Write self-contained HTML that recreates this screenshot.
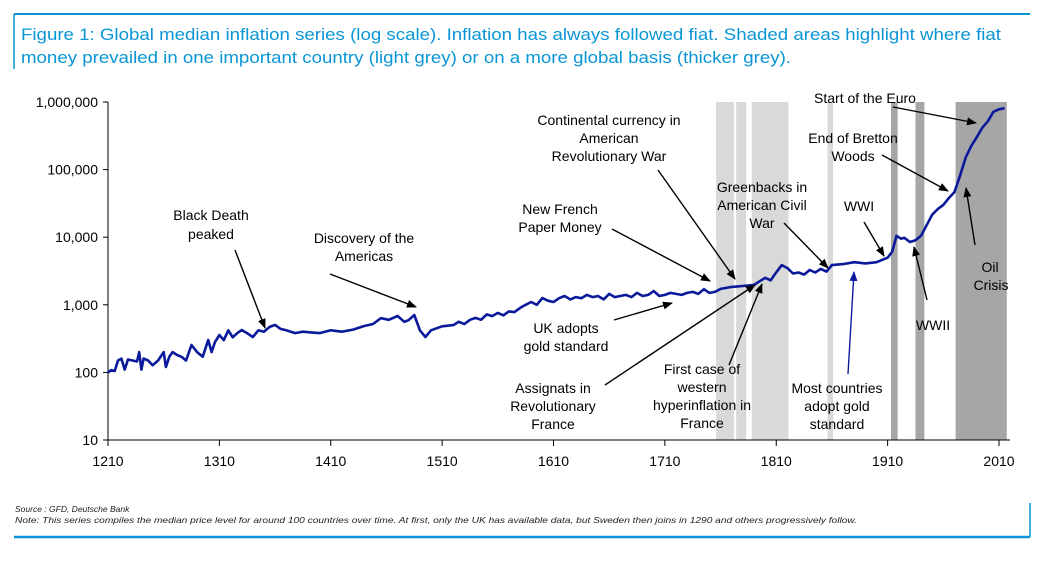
<!DOCTYPE html>
<html><head><meta charset="utf-8"><style>
html,body{margin:0;padding:0;background:#fff;}
svg{display:block;font-family:"Liberation Sans",sans-serif;}
</style></head><body>
<svg id="chart" width="1047" height="561" viewBox="0 0 1047 561">
<defs>
<marker id="ah" markerWidth="10" markerHeight="8" refX="9" refY="4" orient="auto" markerUnits="userSpaceOnUse"><path d="M0,0 L10,4 L0,8 z" fill="#000"/></marker>
<marker id="ahb" markerWidth="10" markerHeight="8" refX="9" refY="4" orient="auto" markerUnits="userSpaceOnUse"><path d="M0,0 L10,4 L0,8 z" fill="#0a1a9a"/></marker>
</defs>
<g stroke="#0a96d6" fill="none">
<line x1="14" y1="14" x2="1030" y2="14" stroke-width="2"/>
<line x1="14" y1="14" x2="14" y2="69" stroke-width="1.5"/>
<line x1="14" y1="537" x2="1030" y2="537" stroke-width="2.5"/>
<line x1="1030" y1="503" x2="1030" y2="537" stroke-width="1.5"/>
</g>
<text x="21" y="40" font-size="17" fill="#0a96d6" textLength="980" lengthAdjust="spacingAndGlyphs">Figure 1: Global median inflation series (log scale). Inflation has always followed fiat. Shaded areas highlight where fiat</text>
<text x="21" y="63" font-size="17" fill="#0a96d6" textLength="770" lengthAdjust="spacingAndGlyphs">money prevailed in one important country (light grey) or on a more global basis (thicker grey).</text>
<g id="bands"></g>
<g id="axes"></g>
<path id="series" fill="none" stroke="#0a1a9a" stroke-width="2.6" stroke-linejoin="round"/>
<g font-size="14" fill="#000" text-anchor="middle">
<text x="211" y="220">Black Death</text><text x="211" y="239">peaked</text>
<text x="364" y="243">Discovery of the</text><text x="364" y="261">Americas</text>
<text x="560" y="214">New French</text><text x="560" y="232">Paper Money</text>
<text x="609" y="125">Continental currency in</text><text x="609" y="143">American</text><text x="609" y="161">Revolutionary War</text>
<text x="762" y="192">Greenbacks in</text><text x="762" y="210">American Civil</text><text x="762" y="228">War</text>
<text x="859" y="211">WWI</text>
<text x="865" y="103">Start of the Euro</text>
<text x="853" y="143">End of Bretton</text><text x="853" y="161">Woods</text>
<text x="990" y="272">Oil</text><text x="991" y="290">Crisis</text>
<text x="933" y="330">WWII</text>
<text x="566" y="333">UK adopts</text><text x="566" y="351">gold standard</text>
<text x="553" y="393">Assignats in</text><text x="553" y="411">Revolutionary</text><text x="553" y="429">France</text>
<text x="702" y="374">First case of</text><text x="702" y="392">western</text><text x="702" y="410">hyperinflation in</text><text x="702" y="428">France</text>
<text x="837" y="393">Most countries</text><text x="837" y="411">adopt gold</text><text x="837" y="429">standard</text>
</g>
<g stroke="#000" stroke-width="1.4" marker-end="url(#ah)">
<line x1="235" y1="250" x2="265" y2="328"/>
<line x1="330" y1="274" x2="416" y2="307"/>
<line x1="612" y1="229" x2="710" y2="281"/>
<line x1="658" y1="170" x2="735" y2="279"/>
<line x1="784" y1="223" x2="828" y2="268"/>
<line x1="864" y1="222" x2="884" y2="256"/>
<line x1="882" y1="155" x2="948" y2="191"/>
<line x1="893" y1="107" x2="976" y2="123"/>
<line x1="975" y1="245" x2="966" y2="188"/>
<line x1="927" y1="300" x2="914" y2="247"/>
<line x1="614" y1="320" x2="672" y2="303"/>
<line x1="605" y1="385" x2="755" y2="285"/>
<line x1="729" y1="365" x2="762" y2="284"/>
<line x1="848" y1="374" x2="854" y2="272" stroke="#0a1a9a" marker-end="url(#ahb)"/>
</g>
<text x="15" y="512" font-size="8.5" font-style="italic" fill="#222">Source : GFD, Deutsche Bank</text>
<text x="15" y="523" font-size="8.5" font-style="italic" fill="#222" textLength="842" lengthAdjust="spacingAndGlyphs">Note: This series compiles the median price level for around 100 countries over time. At first, only the UK has available data, but Sweden then joins in 1290 and others progressively follow.</text>
</svg>
<script>
const years=[1210,1213,1216,1219,1222,1225,1228,1232,1236,1238,1240,1242,1246,1250,1255,1260,1262,1265,1268,1272,1276,1280,1285,1290,1295,1300,1303,1306,1310,1314,1318,1322,1326,1330,1335,1340,1345,1350,1355,1360,1365,1370,1378,1385,1392,1400,1410,1420,1430,1440,1448,1455,1462,1470,1476,1480,1485,1490,1495,1500,1510,1520,1525,1530,1535,1540,1545,1550,1555,1560,1565,1570,1575,1580,1585,1590,1595,1600,1605,1610,1615,1620,1625,1630,1635,1640,1645,1650,1655,1660,1665,1670,1675,1680,1685,1690,1695,1700,1705,1710,1715,1720,1725,1730,1735,1740,1745,1750,1755,1760,1770,1780,1790,1800,1805,1810,1815,1820,1825,1830,1835,1840,1845,1850,1855,1860,1870,1880,1890,1900,1910,1914,1918,1922,1925,1930,1935,1940,1945,1950,1955,1960,1965,1970,1975,1980,1985,1990,1995,2000,2005,2010,2015];
const values=[100,108,105,150,160,110,155,150,145,200,110,160,150,128,150,200,120,170,200,181,170,150,254,200,170,301,200,280,358,300,420,330,380,424,380,334,420,400,470,505,440,420,382,400,390,382,420,400,430,485,520,636,600,682,560,594,706,420,334,420,480,500,560,520,600,640,600,720,680,760,700,800,780,900,1000,1100,1000,1260,1150,1100,1250,1350,1200,1300,1250,1400,1300,1350,1200,1450,1300,1350,1400,1300,1500,1350,1400,1600,1350,1400,1500,1450,1400,1500,1550,1450,1700,1500,1550,1720,1840,1900,1970,2510,2300,3030,3870,3490,2900,3000,2800,3270,3000,3400,3100,3870,4000,4270,4100,4270,4970,6050,10500,9500,9800,8500,9000,10500,15000,21500,26000,30000,38000,46700,81000,150000,223000,300000,416000,520000,715000,780000,810000];
const yTicks=[10,100,1000,10000,100000,1000000];
const yTickLabels=["10","100","1,000","10,000","100,000","1,000,000"];
const xTicks=[1210,1310,1410,1510,1610,1710,1810,1910,2010];
const lightBands=[[1756,1772],[1774,1783],[1788,1821],[1856,1861]];
const midBands=[[1913,1919],[1935,1943]];
const darkBands=[[1971,2017]];
const X=y=>108+(y-1210)*(999-108)/800;
const Y=v=>440-(Math.log10(v)-1)*67.6;
const NS="http://www.w3.org/2000/svg";
function mk(t,a,p){const e=document.createElementNS(NS,t);for(const k in a)e.setAttribute(k,a[k]);p.appendChild(e);return e;}
const bands=document.getElementById('bands');
[[lightBands,'#d9d9d9'],[midBands,'#a6a6a6'],[darkBands,'#a6a6a6']].forEach(([arr,c])=>arr.forEach(b=>{
 const r=mk('rect',{x:X(b[0]),y:Y(1000000),width:X(b[1])-X(b[0]),height:Y(10)-Y(1000000),fill:c},bands);
 
 
}));
const ax=document.getElementById('axes');
mk('line',{x1:108,y1:Y(1000000),x2:108,y2:440,stroke:'#000','stroke-width':1},ax);
mk('line',{x1:108,y1:440,x2:1010,y2:440,stroke:'#000','stroke-width':1},ax);
yTicks.forEach((v,i)=>{
 mk('line',{x1:103,y1:Y(v),x2:108,y2:Y(v),stroke:'#000'},ax);
 const t=mk('text',{x:98,y:Y(v)+5,'font-size':14,'text-anchor':'end'},ax);t.textContent=yTickLabels[i];
 
 
});
xTicks.forEach(v=>{
 mk('line',{x1:X(v),y1:440,x2:X(v),y2:446,stroke:'#000'},ax);
 const t=mk('text',{x:X(v),y:466,'font-size':14,'text-anchor':'middle'},ax);t.textContent=v;
 
 
});
document.getElementById('series').setAttribute('d',years.map((y,i)=>(i?'L':'M')+X(y).toFixed(1)+','+Y(values[i]).toFixed(1)).join(''));
</script>
</body></html>
